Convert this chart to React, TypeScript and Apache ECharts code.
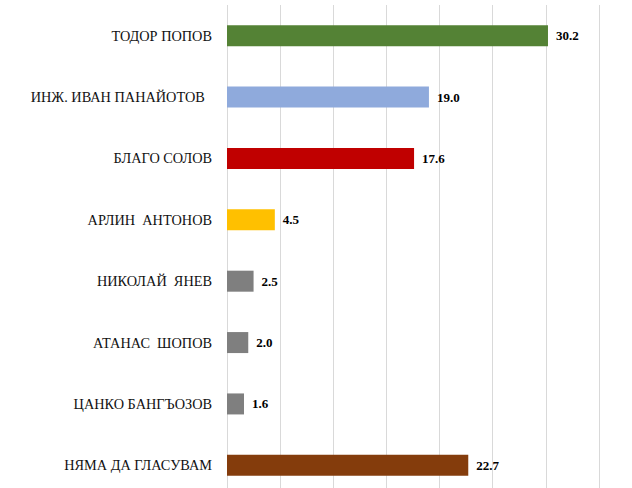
import React, { useEffect, useRef } from "react";
import * as echarts from "echarts";

const categories = [
  "ТОДОР ПОПОВ",
  "ИНЖ. ИВАН ПАНАЙОТОВ  ",
  "БЛАГО СОЛОВ",
  "АРЛИН  АНТОНОВ",
  "НИКОЛАЙ  ЯНЕВ",
  "АТАНАС  ШОПОВ",
  "ЦАНКО БАНГЪОЗОВ",
  "НЯМА ДА ГЛАСУВАМ",
];
const values = [30.2, 19.0, 17.6, 4.5, 2.5, 2.0, 1.6, 22.7];
const colors = ["#548235", "#8faadc", "#c00000", "#ffc000", "#7f7f7f", "#7f7f7f", "#7f7f7f", "#843c0c"];

const FONT = "Liberation Serif";

export default function App() {
  const ref = useRef<HTMLDivElement>(null);
  useEffect(() => {
    if (!ref.current) return;
    const chart = echarts.init(ref.current, undefined, { renderer: "svg" });
    chart.setOption({
      animation: false,
      textStyle: { fontFamily: FONT },
      grid: { left: 227, right: 33, top: 5, bottom: 4, containLabel: false },
      xAxis: {
        type: "value",
        min: 0,
        max: 35,
        interval: 5,
        axisLabel: { show: false },
        axisLine: { show: false },
        axisTick: { show: false },
        splitLine: { show: true, lineStyle: { color: "#d9d9d9", width: 1 } },
      },
      yAxis: {
        type: "category",
        inverse: true,
        data: categories,
        axisLine: { show: false },
        axisTick: { show: false },
        axisLabel: {
          margin: 15,
          color: "#111",
          fontFamily: FONT,
          fontSize: 14.3,
        },
      },
      series: [
        {
          type: "bar",
          barWidth: 21,
          data: values.map((v, i) => ({ value: v, itemStyle: { color: colors[i] } })),
          label: {
            show: true,
            position: "right",
            distance: 8,
            color: "#000",
            fontFamily: FONT,
            fontWeight: "bold",
            fontSize: 13,
            formatter: (p: any) => Number(p.value).toFixed(1),
          },
        },
      ],
    });
    return () => chart.dispose();
  }, []);
  return (
    <div style={{ position: "fixed", left: 0, top: 0, width: 632, height: 488, overflow: "hidden", background: "#fff" }}>
      <div ref={ref} style={{ width: 632, height: 500 }} />
    </div>
  );
}
